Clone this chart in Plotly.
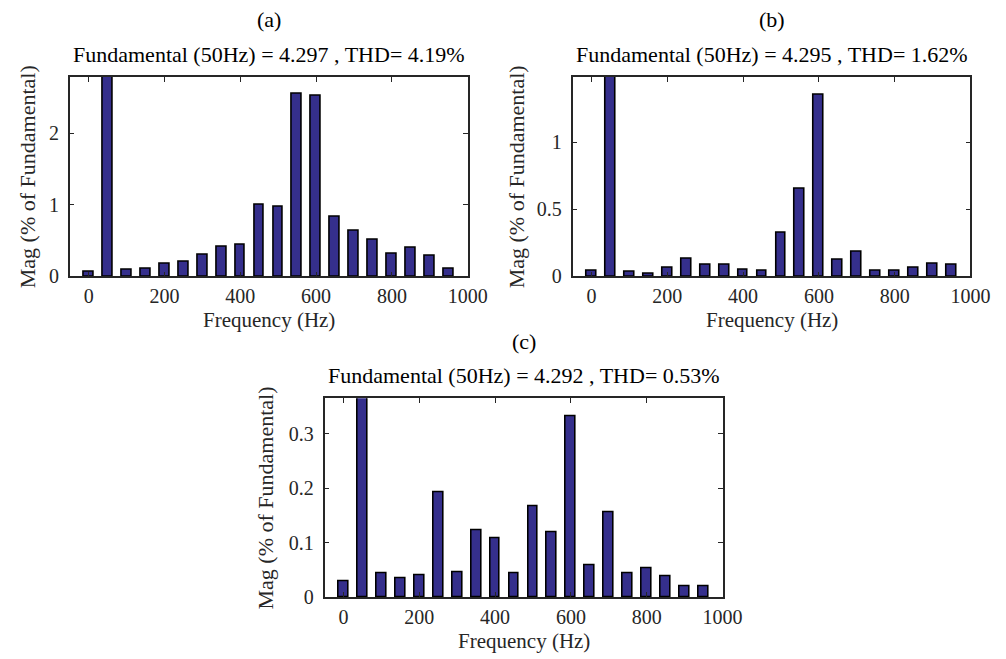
import plotly.graph_objects as go

freqs = [0, 50, 100, 150, 200, 250, 300, 350, 400, 450, 500, 550, 600, 650, 700, 750, 800, 850, 900, 950]
mag_a = [0.06, 100, 0.096, 0.10, 0.18, 0.21, 0.30, 0.41, 0.445, 1.005, 0.968, 2.546, 2.518, 0.84, 0.638, 0.514, 0.312, 0.394, 0.289, 0.11]
mag_b = [0.039, 100, 0.034, 0.022, 0.066, 0.134, 0.088, 0.083, 0.046, 0.044, 0.323, 0.653, 1.354, 0.125, 0.186, 0.039, 0.039, 0.064, 0.093, 0.09]
mag_c = [0.029, 100, 0.044, 0.035, 0.040, 0.192, 0.045, 0.123, 0.107, 0.044, 0.167, 0.118, 0.332, 0.059, 0.156, 0.043, 0.052, 0.038, 0.020, 0.020]

panel_labels = ["(a)", "(b)", "(c)"]
titles = ["Fundamental (50Hz) = 4.297 , THD= 4.19%",
          "Fundamental (50Hz) = 4.295 , THD= 1.62%",
          "Fundamental (50Hz) = 4.292 , THD= 0.53%"]
x_ticks = [0, 200, 400, 600, 800, 1000]
y_ticks_a = [0, 1, 2]
y_ticks_b = [0, 0.5, 1]
y_ticks_c = [0, 0.1, 0.2, 0.3]
y_max = [2.79, 1.487, 0.365]
x_title = "Frequency (Hz)"
y_title = "Mag (% of Fundamental)"

W, H = 1006, 659
FONT = "Liberation Serif"
BAR = "#352F8C"
AX = "#262626"

# plot boxes in pixels: (left, right, top, bottom)
boxes = [(63, 469, 70, 273), (576, 982, 70, 273), (323, 729, 397, 599)]
ytitle_gap = [43, 57, 60]

fig = go.Figure()
mags = [mag_a, mag_b, mag_c]
yt = [y_ticks_a, y_ticks_b, y_ticks_c]

annotations = []
for i in range(3):
    xa = "x" if i == 0 else f"x{i+1}"
    ya = "y" if i == 0 else f"y{i+1}"
    fig.add_trace(go.Bar(x=freqs, y=mags[i], width=26, xaxis=xa, yaxis=ya,
                         marker=dict(color=BAR, line=dict(color="black", width=1.6)),
                         showlegend=False))
    l, r, t, b = boxes[i]
    xd = [l / W, r / W]
    yd = [1 - b / H, 1 - t / H]
    xkey = "xaxis" if i == 0 else f"xaxis{i+1}"
    ykey = "yaxis" if i == 0 else f"yaxis{i+1}"
    common = dict(showgrid=False, zeroline=False, showline=True, linecolor=AX, linewidth=1.5,
                  ticks="inside", ticklen=5, tickwidth=1.2, tickcolor=AX, mirror="ticks",
                  tickfont=dict(family=FONT, size=20, color="#262626"))
    fig.update_layout(**{
        xkey: dict(domain=xd, range=[-50, 1000], tickvals=x_ticks, anchor=ya,
                   ticklabelstandoff=1, **common),
        ykey: dict(domain=yd, range=[0, y_max[i]], tickvals=yt[i], ticklabelstandoff=5,
                   ticktext=[("%g" % v) for v in yt[i]], anchor=xa, **common),
    })
    cx = (l + r) / 2
    annotations.append(dict(x=cx / W, y=1 - (t - 23) / H, xref="paper", yref="paper",
                            text=titles[i], showarrow=False, xanchor="center", yanchor="middle",
                            font=dict(family=FONT, size=22, color="black")))
    annotations.append(dict(x=cx / W, y=1 - (t - 58) / H, xref="paper", yref="paper",
                            text=panel_labels[i], showarrow=False, xanchor="center", yanchor="middle",
                            font=dict(family=FONT, size=22, color="black")))
    annotations.append(dict(x=cx / W, y=1 - (b + 58) / H, xref="paper", yref="paper",
                            text=x_title, showarrow=False, xanchor="center", yanchor="bottom",
                            borderpad=0,
                            font=dict(family=FONT, size=21, color="#262626")))
    annotations.append(dict(x=(l - ytitle_gap[i]) / W, y=1 - ((t + b) / 2) / H,
                            xref="paper", yref="paper", text=y_title, showarrow=False,
                            textangle=-90, xanchor="center", yanchor="middle",
                            font=dict(family=FONT, size=22, color="#262626")))

fig.update_layout(width=W, height=H, margin=dict(l=0, r=0, t=0, b=0),
                  paper_bgcolor="white", plot_bgcolor="white", bargap=0,
                  annotations=annotations)
fig.write_html("out.html")
